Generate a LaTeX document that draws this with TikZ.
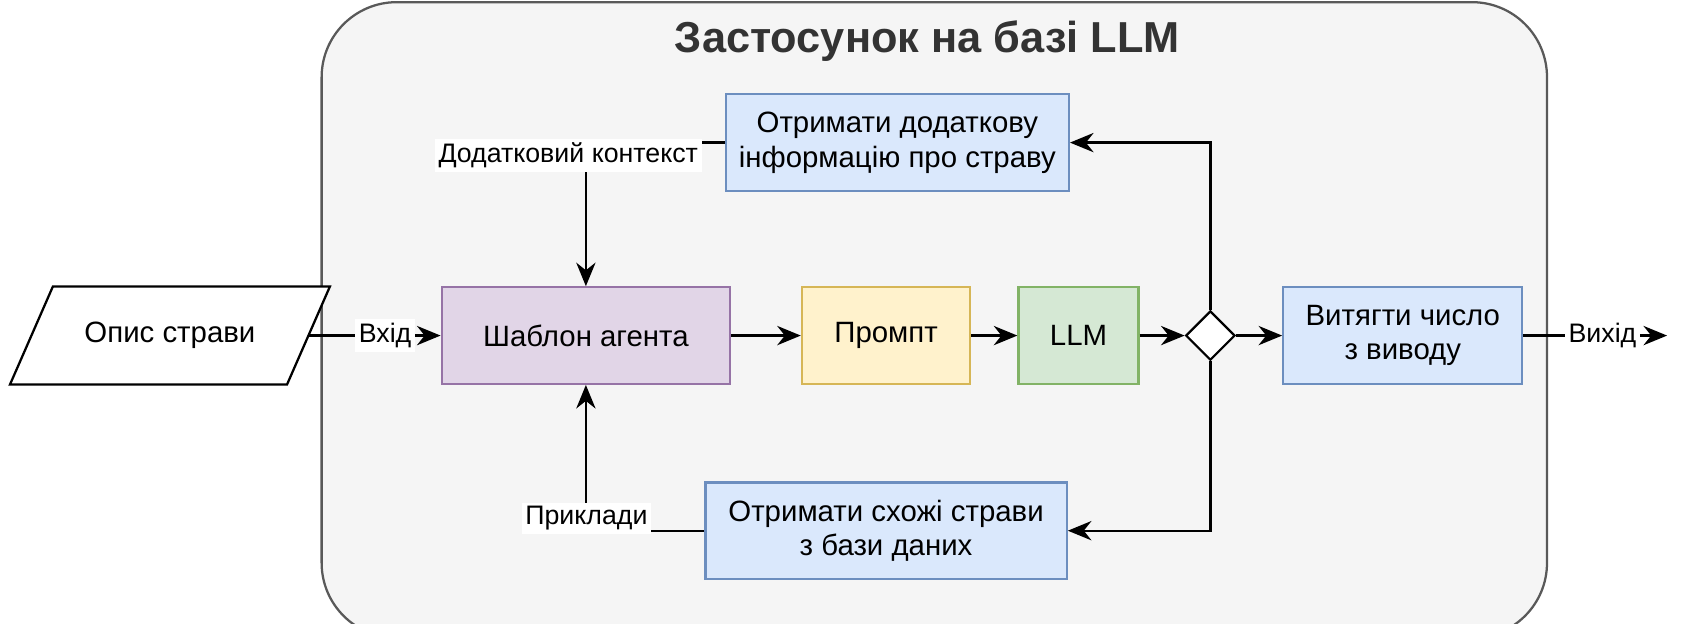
\documentclass[tikz,border=0pt]{standalone}
\usepackage{fontspec}
\setmainfont{Liberation Sans}
\usetikzlibrary{arrows.meta,positioning,shapes.geometric}
\definecolor{purpfill}{HTML}{E1D5E7}\definecolor{purpline}{HTML}{9673A6}
\definecolor{yelfill}{HTML}{FFF2CC}\definecolor{yelline}{HTML}{D6B656}
\definecolor{grnfill}{HTML}{D5E8D4}\definecolor{grnline}{HTML}{82B366}
\definecolor{blufill}{HTML}{DAE8FC}\definecolor{bluline}{HTML}{6C8EBF}
\tikzset{
  box/.style={draw, line width=0.6pt, minimum height=0.9cm, align=center, font=\fontsize{7.8}{9.2}\selectfont},
  lbl/.style={fill=white, inner sep=1pt, font=\fontsize{7.1}{8}\selectfont},
  arr/.style={-{Stealth[length=2.2mm,width=1.8mm]}, line width=0.6pt},
}
\begin{document}
\begin{tikzpicture}[y=-1cm]
        \useasboundingbox (0, 0) rectangle (15.68, 5.82);
        \draw[fill=gray!8, draw=gray!70!black, line width=0.6pt, rounded corners=0.7cm] (3.0, 0.02) rectangle (14.43, 5.95);
        \node[font=\bfseries\fontsize{11.5}{13}\selectfont, text=black!80] (title) at (8.65, 0.38) {Застосунок на базі LLM};

        \node[minimum width=2.57cm, minimum height=0.9cm, inner sep=0pt, font=\fontsize{7.8}{9.2}\selectfont] (dish) at (1.585, 3.13) {};
        \draw[fill=white, line width=0.6pt] ([xshift=0.2cm]dish.north west) -- ([xshift=0.2cm]dish.north east) -- ([xshift=-0.2cm]dish.south east) -- ([xshift=-0.2cm]dish.south west) -- cycle;
        \node[font=\fontsize{7.8}{9.2}\selectfont] at (dish) {Опис страви};
        \node[box, fill=purpfill, draw=purpline, minimum width=2.69cm] (tmpl) at (5.465, 3.13) {Шаблон агента};
        \node[box, fill=yelfill, draw=yelline, minimum width=1.57cm] (prompt) at (8.265, 3.13) {Промпт};
        \node[box, fill=grnfill, draw=grnline, minimum width=1.12cm] (llm) at (10.06, 3.13) {LLM};
        \node[draw, line width=0.6pt, fill=white, diamond, minimum width=0.46cm, minimum height=0.46cm, inner sep=0pt] (dec) at (11.29, 3.13) {};
        \node[box, fill=blufill, draw=bluline, minimum width=2.23cm] (extract) at (13.085, 3.13) {Витягти число\\з виводу};
        \node[box, fill=blufill, draw=bluline, minimum width=3.2cm] (info) at (8.37, 1.33) {Отримати додаткову\\інформацію про страву};
        \node[box, fill=blufill, draw=bluline, minimum width=3.37cm] (similar) at (8.265, 4.95) {Отримати схожі страви\\з бази даних};

        \coordinate (out) at (15.55, 3.13);
        \coordinate (ctx) at (5.465, 1.33);
        \coordinate (ex) at (5.465, 4.95);

        \draw[arr] (dish) -- node[lbl, pos=0.58] {Вхід} (tmpl);
        \draw[arr] (tmpl) -- (prompt);
        \draw[arr] (prompt) -- (llm);
        \draw[arr] (llm) -- (dec);
        \draw[arr] (dec) -- (extract);
        \draw[arr] (extract) -- node[lbl, pos=0.55] {Вихід} (out);
        \draw[arr] (dec.north) |- (info.east);
        \draw[arr] (dec.south) |- (similar.east);
        \draw[arr] (info.west) -- (ctx) -- (tmpl.north);
        \draw[arr] (similar.west) -- (ex) -- (tmpl.south);
        \node[lbl, anchor=north] (ctxlbl) at (5.3, 1.29) {Додатковий контекст};
        \node[lbl, anchor=south] (exlbl) at (5.47, 4.99) {Приклади};
\end{tikzpicture}
\end{document}
